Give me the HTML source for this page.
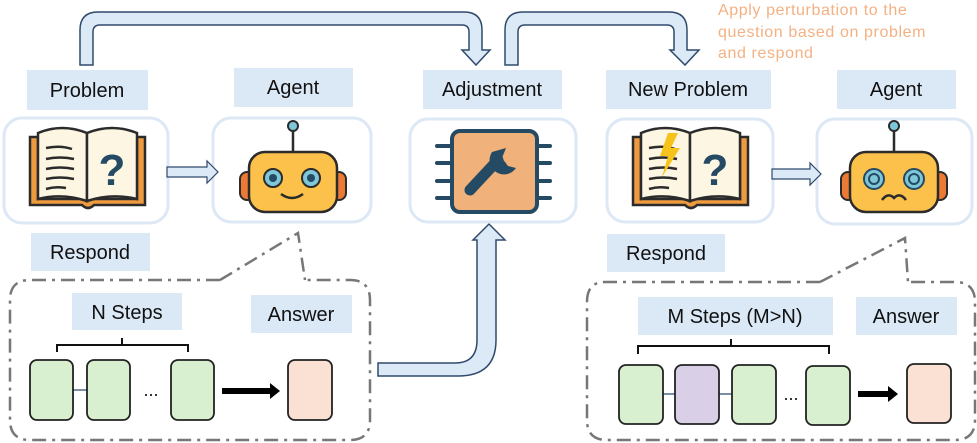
<!DOCTYPE html>
<html><head><meta charset="utf-8"><style>
body{margin:0;background:#fff}
svg{display:block}
text{font-family:"Liberation Sans",sans-serif}
</style></head><body>
<svg width="977" height="443" viewBox="0 0 977 443" xmlns="http://www.w3.org/2000/svg">
<defs>
<g id="book">
 <path d="M0 12 H8 V74 H107 V12 H115 V80 H64 Q58 86 52 80 H0Z" fill="#ee9a3e" stroke="#2b2b2b" stroke-width="2.5"/>
 <path d="M8 8 Q32 -2 57 8 V76 Q32 68 8 74Z" fill="#fdf6e3" stroke="#2b2b2b" stroke-width="2.5"/>
 <path d="M107 8 Q82 -2 57 8 V76 Q82 68 107 74Z" fill="#fdf6e3" stroke="#2b2b2b" stroke-width="2.5"/>
 <path d="M16 23 Q30 20 42 24 M16 34 Q30 31 44 34 M16 44 Q30 41 44 44 M16 54 Q30 51 44 54 M16 64 Q26 61 36 63" stroke="#2b2b2b" stroke-width="2.5" fill="none"/>
 <text x="82" y="60" font-size="44" font-weight="bold" fill="#254a64" text-anchor="middle">?</text>
</g>
<g id="robothead">
 <line x1="48" y1="0" x2="48" y2="28" stroke="#2b2b2b" stroke-width="2.5"/>
 <circle cx="48" cy="2" r="5" fill="#7ec7d8" stroke="#2b2b2b" stroke-width="2"/>
 <rect x="-5" y="48" width="14" height="28" rx="7" fill="#ec7a34" stroke="#2b2b2b" stroke-width="2"/>
 <rect x="87" y="48" width="14" height="28" rx="7" fill="#ec7a34" stroke="#2b2b2b" stroke-width="2"/>
 <rect x="4" y="28" width="88" height="60" rx="16" fill="#fcc14a" stroke="#2b2b2b" stroke-width="2.5"/>
</g>
</defs>

<path d="M80 65 V30 Q80 12 98 12 H464 Q482 12 482 30 V50 H490 L476 65 L462 50 H469 V32 Q469 25 462 25 H100 Q93 25 93 32 V65Z" fill="#dce9f6" stroke="#2f4a6b" stroke-width="1.5"/>
<path d="M505 65 V30 Q505 12 523 12 H669 Q687 12 687 30 V50 H699 L685 65 L670 50 H674 V32 Q674 25 667 25 H525 Q518 25 518 32 V65Z" fill="#dce9f6" stroke="#2f4a6b" stroke-width="1.5"/>
<path d="M378 363 H455 Q477 363 477 340 V240 H473 L489 224 L505 240 H496 V340 Q496 376 458 376 H378Z" fill="#dce9f6" stroke="#2f4a6b" stroke-width="1.5"/>

<g font-size="16" fill="#f4b183" letter-spacing="0.6">
<text x="718" y="15">Apply perturbation to the</text>
<text x="718" y="37">question based on problem</text>
<text x="718" y="58">and respond</text>
</g>

<g fill="#dbe8f6">
<rect x="27" y="70" width="121" height="40"/><rect x="234" y="68" width="119" height="39"/>
<rect x="423" y="70" width="139" height="39"/><rect x="606" y="70" width="165" height="39"/>
<rect x="837" y="70" width="119" height="39"/>
<rect x="31" y="233" width="119" height="38"/><rect x="607" y="234" width="118" height="38"/>
<rect x="72" y="293" width="110" height="37"/><rect x="251" y="295" width="101" height="38"/>
<rect x="638" y="297" width="195" height="38"/><rect x="856" y="297" width="101" height="38"/>
</g>
<g font-size="20" text-anchor="middle" fill="#111">
<text x="87" y="97">Problem</text><text x="293" y="94">Agent</text>
<text x="492" y="96">Adjustment</text><text x="688" y="96">New Problem</text>
<text x="896" y="96">Agent</text>
<text x="90" y="259">Respond</text><text x="666" y="260">Respond</text>
<text x="127" y="319">N Steps</text><text x="301" y="321">Answer</text>
<text x="735" y="323">M Steps (M&gt;N)</text><text x="906" y="323">Answer</text>
</g>

<g fill="none" stroke="#dce8f5" stroke-width="3">
<rect x="4" y="118" width="164" height="105" rx="18"/>
<rect x="213" y="118" width="158" height="104" rx="18"/>
<rect x="410" y="119" width="166" height="103" rx="18"/>
<rect x="607" y="119" width="166" height="103" rx="18"/>
<rect x="817" y="119" width="155" height="105" rx="18"/>
</g>

<path d="M167 167 H207 V161 L218 172 L207 183 V177 H167Z" fill="#dce9f6" stroke="#2f4a6b" stroke-width="1.2"/>
<path d="M772 169 H810 V163 L821 174 L810 185 V179 H772Z" fill="#dce9f6" stroke="#2f4a6b" stroke-width="1.2"/>

<use href="#book" transform="translate(30,125)"/>
<use href="#book" transform="translate(633,125)"/>
<path d="M668 133 L660 156 H668 L662 177 L680 148 H671 L678 133Z" fill="#f7c21a"/>

<g transform="translate(245,124)"><use href="#robothead"/>
 <circle cx="28" cy="54" r="9" fill="#7ec7d8" stroke="#2b2b2b" stroke-width="2"/><circle cx="28" cy="54" r="4" fill="#254a64"/>
 <circle cx="66" cy="54" r="9" fill="#7ec7d8" stroke="#2b2b2b" stroke-width="2"/><circle cx="66" cy="54" r="4" fill="#254a64"/>
 <path d="M36 70 Q47 78 58 70" stroke="#2b2b2b" stroke-width="2.5" fill="none"/>
</g>
<g transform="translate(846,124)"><use href="#robothead"/>
 <circle cx="28" cy="55" r="10" fill="#7ec7d8" stroke="#254a64" stroke-width="2"/><circle cx="28" cy="55" r="5" fill="none" stroke="#254a64" stroke-width="2"/>
 <circle cx="68" cy="55" r="10" fill="#7ec7d8" stroke="#254a64" stroke-width="2"/><circle cx="68" cy="55" r="5" fill="none" stroke="#254a64" stroke-width="2"/>
 <path d="M36 76 Q42 68 48 74 Q54 68 60 76" stroke="#2b2b2b" stroke-width="2.5" fill="none"/>
</g>

<g stroke="#254a64" stroke-width="4" stroke-linecap="round">
<line x1="437" y1="146" x2="452" y2="146"/><line x1="437" y1="163" x2="452" y2="163"/><line x1="437" y1="181" x2="452" y2="181"/><line x1="437" y1="198" x2="452" y2="198"/>
<line x1="537" y1="146" x2="550" y2="146"/><line x1="537" y1="163" x2="550" y2="163"/><line x1="537" y1="181" x2="550" y2="181"/><line x1="537" y1="198" x2="550" y2="198"/>
</g>
<rect x="452" y="131" width="85" height="81" rx="8" fill="#f0b27a" stroke="#254a64" stroke-width="4"/>
<path d="M470 190 L498 160" stroke="#254a64" stroke-width="11" stroke-linecap="round"/>
<path d="M492 152 A14 14 0 1 0 516 168 L508 166 L502 158 L506 148Z" fill="#254a64"/>

<g fill="none" stroke="#777" stroke-width="2.5" stroke-dasharray="14 6 3 6">
<path d="M220 280 L298 233 L305 280 M220 280 H30 Q10 280 10 300 V420 Q10 440 30 440 H350 Q370 440 370 420 V300 Q370 280 350 280 H305"/>
<path d="M820 282 L905 238 L908 282 M820 282 H605 Q587 282 587 302 V420 Q587 440 607 440 H955 Q975 440 975 420 V302 Q975 282 955 282 H908"/>
</g>

<path d="M57 352 V345 H188 V352 M122 345 V338" stroke="#111" stroke-width="2" fill="none"/>
<line x1="73" y1="390" x2="87" y2="390" stroke="#4a6b8a" stroke-width="1.5"/>
<g stroke="#222" stroke-width="1.8">
<rect x="30" y="360" width="43" height="60" rx="7" fill="#d9f0d0"/>
<rect x="87" y="360" width="43" height="60" rx="7" fill="#d9f0d0"/>
<rect x="171" y="360" width="43" height="60" rx="7" fill="#d9f0d0"/>
<rect x="288" y="360" width="44" height="60" rx="7" fill="#fbe1d4"/>
</g>
<text x="151" y="396" font-size="18" text-anchor="middle" fill="#111">...</text>
<path d="M222 388 H270 V383 L280 391 L270 399 V394 H222Z" fill="#000"/>

<path d="M638 354 V346 H829 V354 M731 346 V339" stroke="#111" stroke-width="2" fill="none"/>
<line x1="663" y1="394" x2="732" y2="394" stroke="#4a6b8a" stroke-width="1.5"/>
<g stroke="#222" stroke-width="1.8">
<rect x="619" y="365" width="44" height="59" rx="7" fill="#d9f0d0"/>
<rect x="675" y="365" width="44" height="59" rx="7" fill="#d9d0e8"/>
<rect x="732" y="365" width="44" height="59" rx="7" fill="#d9f0d0"/>
<rect x="806" y="366" width="44" height="59" rx="7" fill="#d9f0d0"/>
<rect x="907" y="364" width="44" height="59" rx="7" fill="#fbe1d4"/>
</g>
<text x="791" y="400" font-size="18" text-anchor="middle" fill="#111">...</text>
<path d="M858 391 H888 V386 L898 394 L888 402 V397 H858Z" fill="#000"/>
</svg>
</body></html>
